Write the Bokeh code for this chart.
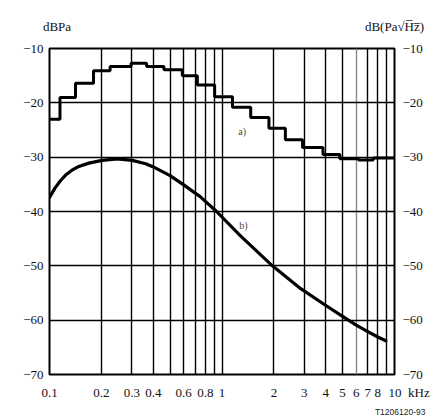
from bokeh.plotting import figure
from bokeh.models import (FixedTicker, LinearAxis, LogAxis, CustomJSTickFormatter, Grid, Label, Title)
from bokeh.embed import file_html
from bokeh.resources import INLINE

# ---- data ----
# third-octave step curve a): band edges (kHz) and level per band (dBPa)
band_edges = [0.1, 0.115, 0.1415, 0.18, 0.2245, 0.297, 0.3655, 0.4607, 0.5887, 0.7193,
              0.9064, 1.15, 1.467, 1.871, 2.33, 2.93, 3.85, 4.82, 6.18, 7.53, 10.0]
levels_a = [-23.0, -19.0, -16.4, -14.1, -13.3, -12.7, -13.3, -13.9, -15.0, -16.7,
            -18.9, -20.8, -22.7, -24.7, -26.8, -28.2, -29.5, -30.3, -30.5, -30.15]

# spectral density curve b): frequency (kHz) and level dB(Pa/sqrt(Hz))
freq_b = [0.1, 0.108, 0.116, 0.124, 0.135, 0.148, 0.169, 0.202, 0.247, 0.302, 0.361, 0.4,
          0.5, 0.6, 0.75, 0.93, 1.28, 1.96, 2.86, 4.0, 5.0, 6.0, 7.0, 8.0, 8.9]
level_b = [-37.4, -35.6, -34.3, -33.3, -32.4, -31.7, -31.1, -30.6, -30.3, -30.6, -31.2, -31.8,
           -33.4, -35.1, -37.3, -40.0, -44.5, -50.0, -54.2, -57.3, -59.3, -60.9, -62.1, -63.1, -63.8]

x_grid = [0.1, 0.2, 0.3, 0.4, 0.5, 0.6, 0.7, 0.8, 0.9, 1, 2, 3, 4, 5, 7, 8, 9, 10]
x_grid_light = [6]
x_labeled = [0.1, 0.2, 0.3, 0.4, 0.6, 0.8, 1, 2, 3, 4, 5, 6, 7, 8, 10]
y_ticks = [-70, -60, -50, -40, -30, -20, -10]
unit_left = "dBPa"
unit_right = "dB(Pa\u221aH\u0305z\u0305)"
unit_x = "kHz"

FONT = "Liberation Serif"
NB = "\u00a0"

p = figure(width=430, height=419, x_axis_type="log", x_range=(0.1, 10), y_range=(-70, -10),
           output_backend="svg", toolbar_location=None,
           min_border_left=49, min_border_right=36, min_border_top=48, min_border_bottom=45)
p.background_fill_color = "white"
p.border_fill_color = "white"
p.outline_line_color = "black"
p.outline_line_width = 2

xfmt = CustomJSTickFormatter(args=dict(shown=x_labeled, unit=unit_x, nb=NB), code="""
for (const v of shown) {
  if (Math.abs(v - tick) < 1e-6 * v) {
    if (tick >= 9.99) { return nb.repeat(9) + "10" + nb.repeat(2) + unit; }
    return tick < 1 ? tick.toFixed(1) : tick.toFixed(0);
  }
}
return "";
""")
yfmt = CustomJSTickFormatter(code="return (tick < 0 ? '\\u2212' : '') + Math.abs(tick).toFixed(0);")

all_x = sorted(x_grid + x_grid_light)
xa = p.xaxis[0]
xa.ticker = FixedTicker(ticks=all_x)
xa.formatter = xfmt
ya = p.yaxis[0]
ya.ticker = FixedTicker(ticks=y_ticks)
ya.formatter = yfmt

ra = LinearAxis(ticker=FixedTicker(ticks=y_ticks), formatter=yfmt)
p.add_layout(ra, "right")

# unit captions above the frame, as labels of a top axis
top_pos = [0.1105, 10.0]
tfmt = CustomJSTickFormatter(args=dict(l=unit_left, r=unit_right), code="""
return tick < 1 ? l : r;
""")
ta = LogAxis(ticker=FixedTicker(ticks=top_pos), formatter=tfmt)
p.add_layout(ta, "above")

for ax, standoff in ((xa, 10), (ya, 6), (ra, 8), (ta, 15)):
    ax.axis_line_color = None
    ax.major_tick_line_color = None
    ax.minor_tick_line_color = None
    ax.major_tick_out = 0
    ax.major_tick_in = 0
    ax.major_label_standoff = standoff
    ax.major_label_text_font = FONT
    ax.major_label_text_font_size = "13px"
    ax.major_label_text_color = "#111111"

p.xgrid.visible = False
p.ygrid.visible = False
p.add_layout(Grid(dimension=0, ticker=FixedTicker(ticks=x_grid), grid_line_color="black",
                  grid_line_width=1.4))
p.add_layout(Grid(dimension=0, ticker=FixedTicker(ticks=x_grid_light), grid_line_color="#888888",
                  grid_line_width=1.4))
p.add_layout(Grid(dimension=1, ticker=FixedTicker(ticks=y_ticks), grid_line_color="black",
                  grid_line_width=1.4))

p.step(x=band_edges, y=levels_a + [levels_a[-1]], mode="after", line_color="black", line_width=3)
p.line(x=freq_b, y=level_b, line_color="black", line_width=3.2, line_join="round", line_cap="round")

p.add_layout(Label(x=1.31, y=-25.3, text="a)", text_font=FONT, text_font_size="10px",
                   text_color="#444444", text_align="center", text_baseline="middle"))
p.add_layout(Label(x=1.33, y=-42.6, text="b)", text_font=FONT, text_font_size="10px",
                   text_color="#444444", text_align="center", text_baseline="middle"))

p.add_layout(Title(text="T1206120-93", align="right", offset=-31, standoff=5,
                   text_font="Liberation Sans", text_font_size="8.5px", text_color="#222222",
                   text_font_style="normal"), "below")

open("out.html", "w").write(file_html(p, INLINE))
